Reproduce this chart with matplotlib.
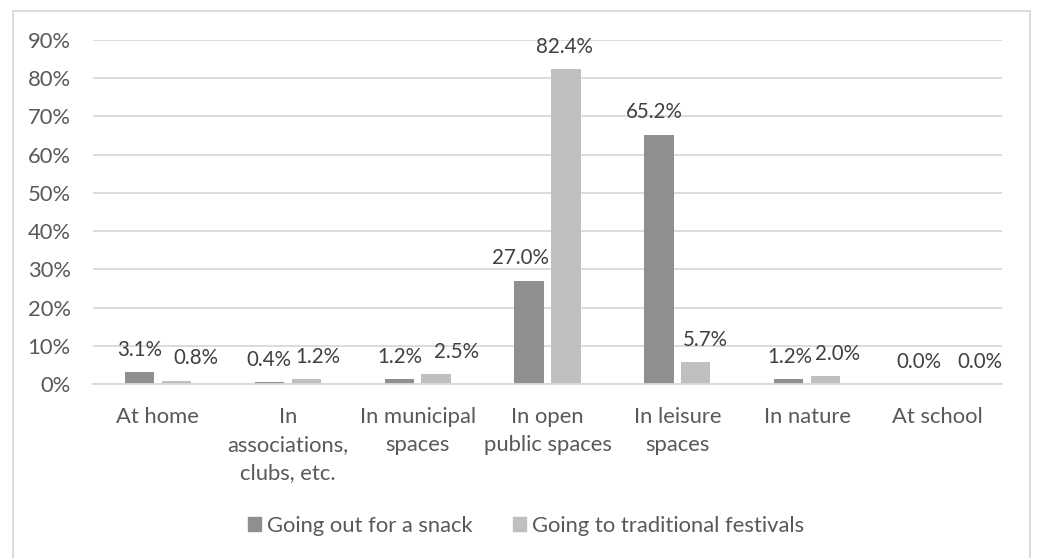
import matplotlib
matplotlib.use("Agg")
import matplotlib.pyplot as plt
from matplotlib.patches import Rectangle, Patch
import numpy as np

categories = ["At home", "In\nassociations,\nclubs, etc.", "In municipal\nspaces",
              "In open\npublic spaces", "In leisure\nspaces", "In nature", "At school"]
snack = [3.1, 0.4, 1.2, 27.0, 65.2, 1.2, 0.0]
festivals = [0.8, 1.2, 2.5, 82.4, 5.7, 2.0, 0.0]
series_names = ["Going out for a snack", "Going to traditional festivals"]
yticks = [0, 10, 20, 30, 40, 50, 60, 70, 80, 90]

# sideways nudges (in pixels) that keep neighbouring value labels apart
snack_label_dx = [0, 0, 1, -8.5, -4.5, 1, 0]
festival_label_dx = [19.5, 12, 20, -2, 10, 12, 24.5]

dark = "#8f8f8f"
light = "#bfbfbf"
text_col = "#595959"
grid_col = "#d9d9d9"

plt.rcParams["font.family"] = ["Lato", "DejaVu Sans"]
W, H = 1037, 558
fig = plt.figure(figsize=(W / 100, H / 100), dpi=100)

# outer chart frame
fig.patches.append(Rectangle((13 / W, -0.05), (1030 - 13) / W, 1.05 - 11 / H,
                             transform=fig.transFigure, fill=False,
                             edgecolor=grid_col, linewidth=1.3, zorder=0))

ax = fig.add_axes([93 / W, (H - 384) / H, (1002 - 93) / W, (384 - 40) / H])
x = np.arange(len(categories))
bw = 0.225
off = 0.142
ax.bar(x - off, snack, bw, color=dark, zorder=3)
ax.bar(x + off, festivals, bw, color=light, zorder=3)

fs = 15.8
px = 0.72  # points per pixel at 100 dpi
for xs, vals, dxs in ((x - off, snack, snack_label_dx), (x + off, festivals, festival_label_dx)):
    for xi, v, dx in zip(xs, vals, dxs):
        ax.annotate(f"{v:.1f}%", (xi, v), xytext=(dx * px, 16.2), textcoords="offset points",
                    ha="center", va="center", fontsize=14.8, color="#404040")

ax.set_xlim(-0.5, len(categories) - 0.5)
ax.set_ylim(0, 90)
ax.set_yticks(yticks)
ax.set_yticklabels([f"{t}%" for t in yticks])
ax.set_xticks(x)
ax.set_xticklabels(categories, linespacing=1.5, va="top")
ax.tick_params(axis="both", length=0, colors=text_col, labelsize=fs)
ax.tick_params(axis="x", pad=16.5)
ax.tick_params(axis="y", pad=16)
ax.grid(axis="y", color=grid_col, linewidth=1.3, zorder=0)
for s in ("top", "right", "left"):
    ax.spines[s].set_visible(False)
ax.spines["bottom"].set_color(grid_col)
ax.spines["bottom"].set_linewidth(1.3)
ax.spines["bottom"].set_zorder(4)

handles = [Patch(color=dark), Patch(color=light)]
fig.legend(handles, series_names, loc="center", bbox_to_anchor=(526 / W, 1 - 526 / H),
           ncol=2, frameon=False, fontsize=fs, labelcolor=text_col,
           handlelength=0.6, handleheight=0.6, handletextpad=0.3, columnspacing=1.8)

fig.savefig("out.png", dpi=100)
